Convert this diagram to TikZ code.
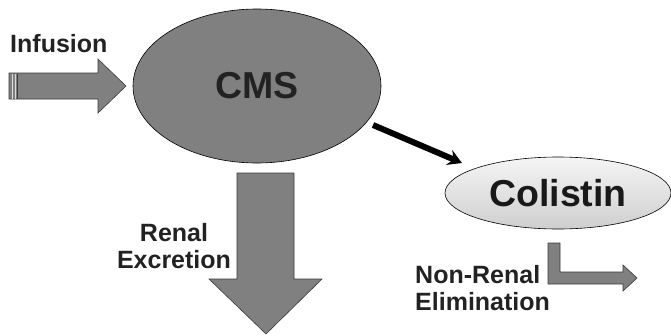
\documentclass[tikz,border=0pt]{standalone}
\usepackage{fontspec}
\setmainfont{Liberation Sans}
\usetikzlibrary{arrows.meta,shapes.geometric}
\definecolor{blockgray}{HTML}{808080}
\definecolor{edgegray}{HTML}{3A3A3A}
\definecolor{txt}{HTML}{222222}
\tikzset{
  blockarrow/.style={fill=blockgray,draw=edgegray,line width=0.6pt,line join=miter},
  lbl/.style={inner sep=0pt,text=txt,font=\fontsize{25}{27}\selectfont\bfseries},
  bigtxt/.style={text=txt,font=\fontsize{37.5}{40}\selectfont\bfseries},
}
\begin{document}
\begin{tikzpicture}[x=1pt,y=-1pt]
\useasboundingbox (0,0) rectangle (671,335);
% CMS compartment
\node[ellipse,draw=black,line width=0.6pt,fill=blockgray,minimum width=248pt,minimum height=154pt,inner sep=0pt,bigtxt] (cms) at (257,86) {CMS};
% Colistin compartment
\node[ellipse,draw=black,line width=0.6pt,top color=gray!8,bottom color=gray!38,minimum width=226pt,minimum height=72pt,inner sep=0pt,bigtxt,text=black!90] (col) at (558,193) {Colistin};
% Infusion arrow
\path[blockarrow] (9,73) -- (98,73) -- (98,59) -- (126,86) -- (98,113) -- (98,99) -- (9,99) -- cycle;
\draw[gray!30,line width=0.6pt] (12,73.5) -- (12,98.5) (15,73.5) -- (15,98.5);
\draw[edgegray,line width=0.8pt] (17.5,73.5) -- (17.5,98.5);
\node[lbl,anchor=base west] (inf) at (10,52) {Infusion};
% conversion arrow
\coordinate (c1) at (373,125);
\coordinate (c2) at (462,163);
\draw[line width=6pt,black,-{Stealth[length=14pt,width=16pt,inset=5pt]}] (c1) -- (c2);
% Renal excretion arrow
\path[blockarrow] (237,173) -- (294,173) -- (294,279) -- (322,279) -- (266,334) -- (209,279) -- (237,279) -- cycle;
\node[lbl,align=center] (ren) at (174,246) {Renal\\Excretion};
% Non-renal elimination arrow
\path[blockarrow] (548,243) -- (560,243) -- (560,272) -- (623,272) -- (623,265) -- (637,278) -- (623,291) -- (623,284) -- (548,284) -- cycle;
\node[lbl,align=left,anchor=west] (nren) at (415,288) {Non-Renal\\Elimination};
\end{tikzpicture}
\end{document}
